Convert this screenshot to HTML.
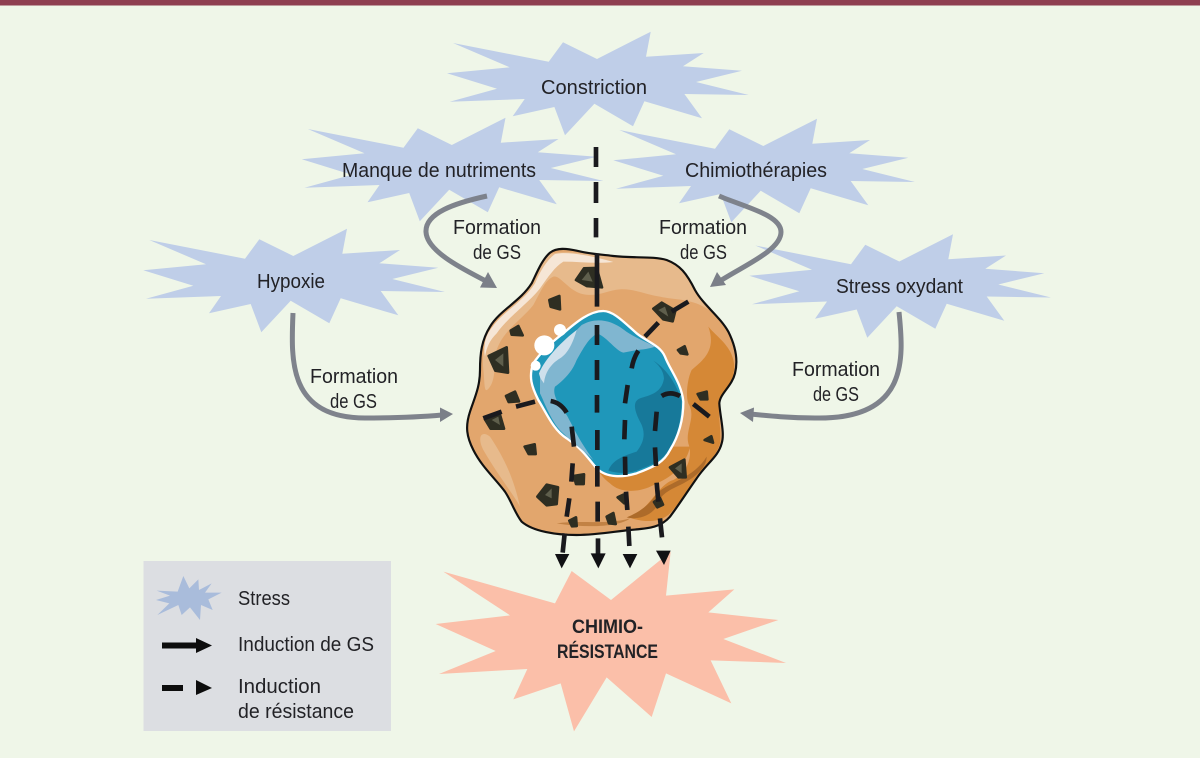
<!DOCTYPE html>
<html lang="fr">
<head>
<meta charset="utf-8">
<title>Chimiorésistance</title>
<style>
html,body{margin:0;padding:0;background:#eff6e8;}
svg{display:block;}
text{font-family:"Liberation Sans",sans-serif;font-size:20.5px;fill:#222226;}
.b{font-weight:bold;font-size:19.5px;}
.l{font-size:20.5px;}
</style>
</head>
<body>
<svg width="1200" height="758" viewBox="0 0 1200 758" xmlns="http://www.w3.org/2000/svg">
<defs>
<polygon id="star" fill="#bfcee8" points="149.3,240 245,258.7 259.3,239.3 293.3,256 347,228.7 342.3,253.7 400,250 379.3,263.3 438.3,267.7 392.3,279 445,292 380.7,291 398.3,315.3 340.7,298.3 329.3,323.3 290.7,300.7 261.3,332.3 250.7,304 209,313.3 221,296 146,298.7 193.3,285.7 143.3,270.3 206,264.3"/>
</defs>
<rect width="1200" height="758" fill="#eff6e8"/>
<rect width="1200" height="5.5" fill="#8e3f50"/>

<!-- stress stars -->
<use href="#star" x="303.7" y="-197"/>
<use href="#star" x="158.5" y="-111"/>
<use href="#star" x="470" y="-110"/>
<use href="#star" x="0" y="0"/>
<use href="#star" x="606" y="5.5"/>

<!-- chemoresistance star -->
<polygon fill="#fbbfa9" transform="translate(430 540) scale(.33333)" points="40,95 375,190 425,93 543,180 722,35 708,167 913,148 835,217 1045,240 880,297 1068,369 842,361 904,490 708,400 665,531 530,412 432,574 392,430 250,478 292,387 27,402 197,333 17,252 240,226"/>

<!-- grey arrows -->
<g fill="none" stroke="#7b7f88" stroke-width="5" opacity=".97">
<path d="M487,196 C455,203 425,213 426,232 C427,252 465,270 486,281"/>
<path d="M719,196 C745,207 781,215 781,232 C781,250 745,265 720,281"/>
<path d="M293,313 C291,360 288,418 365,418 C390,418 420,417 442,415"/>
<path d="M899,312 C904,360 908,420 815,418 C790,418 770,416 750,414"/>
</g>
<g fill="#7b7f88">
<polygon points="497,288 480,287.5 488,272"/>
<polygon points="710,287 726,285 717,272"/>
<polygon points="453,414 440,407.5 440,422"/>
<polygon points="740,413 754,407.5 753,422"/>
</g>

<!-- cell -->
<g transform="translate(440 230) scale(.33333)">
<path fill="#e2a66d" d="M330,68 C350,52 380,55 410,62 C450,72 470,72 520,78 C580,85 640,78 680,90 C720,105 740,130 765,180 C790,225 840,260 865,305 C885,345 895,390 885,430 C875,470 840,490 838,520 C840,560 855,610 845,640 C835,680 800,700 770,745 C745,780 720,820 690,860 C660,895 620,895 570,900 C520,905 470,915 410,915 C350,915 280,905 245,875 C225,850 215,815 195,785 C165,745 125,710 100,660 C80,620 75,590 90,545 C105,500 120,470 120,420 C120,370 125,330 150,290 C180,240 240,215 275,160 C290,130 305,90 330,68 Z"/>
<!-- light rim -->
<path fill="#e7ba8c" d="M330,72 C380,58 450,75 520,82 C590,88 640,82 680,94 C720,108 740,135 762,182 C775,205 790,220 805,240 C760,205 700,210 660,200 C620,195 580,175 540,178 C500,180 470,205 420,190 C380,175 360,135 340,140 C315,150 300,190 280,225 C250,265 190,300 170,360 C160,390 170,440 150,470 C130,500 135,460 130,420 C125,370 135,330 155,292 C185,245 245,215 280,160 C295,130 310,90 330,72 Z"/>
<path fill="#e7ba8c" d="M150,620 C190,680 220,740 240,830 C225,800 170,730 130,660 C110,620 125,600 150,620 Z"/>
<!-- white highlight -->
<path fill="#f6e6d6" d="M345,72 C390,62 470,82 520,96 C470,102 420,95 370,95 C345,110 325,140 300,175 C270,215 200,265 170,310 C150,330 140,350 135,380 C128,340 140,310 158,290 C190,245 250,215 285,160 C300,125 320,90 345,72 Z"/>
<!-- dark orange -->
<path fill="#d58836" d="M805,290 C830,320 870,345 880,390 C890,430 870,470 840,505 C830,530 845,600 840,640 C830,680 795,705 765,745 C745,775 720,820 685,855 C650,880 610,875 575,865 C630,830 660,760 700,750 C740,730 760,680 745,640 C735,600 770,560 745,520 C735,490 745,440 755,420 C790,390 830,360 805,290 Z"/>
<path fill="#d58836" d="M470,715 C500,745 550,745 590,730 C640,710 670,700 700,650 L750,650 C740,700 700,740 650,760 C600,790 540,790 510,760 C490,745 480,730 470,715 Z"/>
<path fill="#ad6b2a" d="M800,680 C800,710 770,740 730,760 C690,780 660,790 650,830 C630,860 590,870 560,862 C590,850 625,830 650,790 C690,755 760,745 800,680 Z"/>
<path fill="#ad6b2a" opacity=".6" d="M350,880 C420,870 500,885 570,865 C540,890 440,895 350,880 Z"/>
<!-- nucleus -->
<path fill="#1f97ba" stroke="#ffffff" stroke-width="7" d="M490,243 C520,243 550,275 590,310 C620,335 660,345 675,380 C690,420 725,460 730,515 C730,570 715,620 690,660 C670,700 640,710 590,730 C550,742 500,745 470,715 C440,680 430,660 380,625 C340,600 320,550 295,510 C275,470 265,440 280,400 C300,370 330,340 370,310 C410,275 450,243 490,243 Z"/>
<path fill="#80b6d0" d="M300,440 C325,385 385,325 425,285 C465,262 510,268 550,298 C580,322 620,335 645,350 C620,360 590,358 550,368 C525,360 505,325 472,310 C445,325 430,355 410,390 C395,430 365,455 345,470 C335,495 360,530 380,555 C400,590 410,620 460,690 C430,660 400,640 370,610 C335,580 315,520 300,490 Z"/>
<path fill="#cfe0ec" d="M297,430 C315,385 370,330 410,300 C400,335 385,370 360,385 C335,400 315,425 312,460 C305,450 300,445 297,430 Z"/>
<path fill="#17799a" d="M640,392 C670,410 705,450 724,510 C725,570 712,620 688,655 C668,695 630,705 590,722 C560,732 530,730 505,722 C515,695 540,680 590,665 C610,640 620,610 600,575 C585,545 575,515 600,505 C630,495 665,490 672,445 C670,420 655,405 640,392 Z"/>
<circle cx="313" cy="346" r="30" fill="#fff"/>
<circle cx="360" cy="300" r="18" fill="#fff"/>
<circle cx="287" cy="407" r="15" fill="#fff"/>
<!-- outline on top -->
<path fill="none" stroke="#111" stroke-width="6.5" d="M330,68 C350,52 380,55 410,62 C450,72 470,72 520,78 C580,85 640,78 680,90 C720,105 740,130 765,180 C790,225 840,260 865,305 C885,345 895,390 885,430 C875,470 840,490 838,520 C840,560 855,610 845,640 C835,680 800,700 770,745 C745,780 720,820 690,860 C660,895 620,895 570,900 C520,905 470,915 410,915 C350,915 280,905 245,875 C225,850 215,815 195,785 C165,745 125,710 100,660 C80,620 75,590 90,545 C105,500 120,470 120,420 C120,370 125,330 150,290 C180,240 240,215 275,160 C290,130 305,90 330,68 Z"/>
<!-- blobs -->
<g fill="#2e2e22" stroke="#2e2e22" stroke-width="8" stroke-linejoin="round">
<polygon points="408,150 432,115 470,114 486,172 440,168"/>
<polygon points="328,210 358,198 360,238 332,230"/>
<polygon points="212,302 235,288 248,316 215,314"/>
<polygon points="146,378 200,352 204,428 166,422"/>
<polygon points="198,498 225,485 237,514 206,516"/>
<polygon points="135,568 178,548 192,596 152,596"/>
<polygon points="254,650 284,643 287,672 266,672"/>
<polygon points="292,800 320,764 354,772 350,822 320,826"/>
<polygon points="402,738 432,733 431,762 408,762"/>
<polygon points="388,872 408,862 410,888 396,889"/>
<polygon points="500,860 520,849 527,882 507,880"/>
<polygon points="533,802 550,794 553,820"/>
<polygon points="642,816 660,804 669,824 652,832"/>
<polygon points="640,236 665,218 706,242 698,274 670,268"/>
<polygon points="714,360 734,349 742,373 722,370"/>
<polygon points="773,492 800,485 802,508 782,508"/>
<polygon points="794,630 814,619 819,638"/>
<polygon points="690,712 733,689 737,742 716,742"/>
</g>
<g fill="#5f5f4c">
<polygon points="425,150 445,125 458,155"/>
<polygon points="165,390 190,370 190,410"/>
<polygon points="315,795 335,775 335,805"/>
<polygon points="655,240 675,230 685,260"/>
<polygon points="155,570 175,560 180,585"/>
<polygon points="705,715 725,700 725,730"/>
</g>
<!-- dashed lines -->
<g fill="none" stroke="#1a1a1e" stroke-width="14">
<path d="M468,-249V-189M468,-144V-81M468,-36V22M471,70V230M471,285V345M471,390V450M471,495V548M472,600V660M472,708V770M473,815V875M474,925V975"/>
<path d="M228,530L285,515M332,513Q362,518 380,548M395,590L402,650M398,700L394,755M388,805L380,860M374,910L368,968"/>
<path d="M130,565L185,545"/>
<path d="M745,215L695,245M655,278L615,320M595,362Q580,385 575,415M563,465L555,520M555,570L553,628M555,680L556,735M558,785L562,840M565,890L568,948"/>
<path d="M665,498Q690,482 720,498M650,545L645,603M645,652L648,708M650,758L655,815M660,865L666,922M760,522L808,560"/>
</g>
<g fill="#111114">
<polygon points="345,972 388,972 365,1015"/>
<polygon points="452,970 497,970 475,1015"/>
<polygon points="548,972 592,972 570,1015"/>
<polygon points="648,962 692,962 672,1005"/>
</g>
</g>

<!-- labels -->
<text x="541" y="94" textLength="106" lengthAdjust="spacingAndGlyphs">Constriction</text>
<text x="342" y="177" textLength="194" lengthAdjust="spacingAndGlyphs">Manque de nutriments</text>
<text x="685" y="177" textLength="142" lengthAdjust="spacingAndGlyphs">Chimiothérapies</text>
<text x="257" y="288" textLength="68" lengthAdjust="spacingAndGlyphs">Hypoxie</text>
<text x="836" y="293" textLength="127" lengthAdjust="spacingAndGlyphs">Stress oxydant</text>
<text x="453" y="234" textLength="88" lengthAdjust="spacingAndGlyphs">Formation</text>
<text x="473" y="259" textLength="48" lengthAdjust="spacingAndGlyphs">de GS</text>
<text x="659" y="234" textLength="88" lengthAdjust="spacingAndGlyphs">Formation</text>
<text x="680" y="259" textLength="47" lengthAdjust="spacingAndGlyphs">de GS</text>
<text x="310" y="383" textLength="88" lengthAdjust="spacingAndGlyphs">Formation</text>
<text x="330" y="408" textLength="47" lengthAdjust="spacingAndGlyphs">de GS</text>
<text x="792" y="376" textLength="88" lengthAdjust="spacingAndGlyphs">Formation</text>
<text x="813" y="401" textLength="46" lengthAdjust="spacingAndGlyphs">de GS</text>
<text class="b" x="572" y="633" textLength="71" lengthAdjust="spacingAndGlyphs">CHIMIO-</text>
<text class="b" x="557" y="658" textLength="101" lengthAdjust="spacingAndGlyphs">RÉSISTANCE</text>

<!-- legend -->
<rect x="143.5" y="561" width="247.5" height="170" fill="#dcdee2"/>
<polygon fill="#a9bcdb" transform="translate(130 550) scale(.33333)" points="80,122 143,125 160,78 178,115 205,88 207,120 245,100 225,128 275,128 235,148 248,180 213,165 210,210 180,172 155,195 145,165 82,195 118,160 78,150 120,137"/>
<path d="M162,645.5H200" stroke="#0d0d0d" stroke-width="6" fill="none"/>
<polygon points="212,645.5 196,638 196,653" fill="#0d0d0d"/>
<path d="M162,688H183" stroke="#0d0d0d" stroke-width="6" fill="none"/>
<polygon points="212,688 196,680 196,695" fill="#0d0d0d"/>
<text class="l" x="238" y="605" textLength="52" lengthAdjust="spacingAndGlyphs">Stress</text>
<text class="l" x="238" y="651" textLength="136" lengthAdjust="spacingAndGlyphs">Induction de GS</text>
<text class="l" x="238" y="693" textLength="83" lengthAdjust="spacingAndGlyphs">Induction</text>
<text class="l" x="238" y="718" textLength="116" lengthAdjust="spacingAndGlyphs">de résistance</text>
</svg>
</body>
</html>
